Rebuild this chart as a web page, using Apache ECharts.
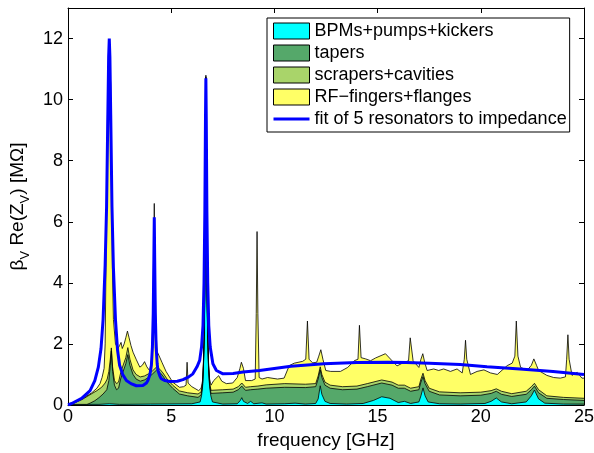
<!DOCTYPE html>
<html>
<head>
<meta charset="utf-8">
<script src="https://cdn.jsdelivr.net/npm/echarts@6/dist/echarts.min.js"></script>
<style>
  html, body { margin: 0; padding: 0; background: #fff; }
  #main { width: 594px; height: 453px; }
</style>
</head>
<body>
<div id="main"></div>
<script>
// frequency [GHz], value [MΩ] -- top edge of each stacked layer
const bpmTop = [
  [0,0.02],[1.5,0.02],[2.0,0.04],[2.5,0.02],[4.0,0.03],[6.0,0.04],[6.4,0.1],[6.47,0.3],[6.52,0.6],[6.56,1.2],
  [6.6,2.2],[6.63,3.8],[6.66,7.5],[6.68,10.7],[6.7,7.5],[6.73,3.8],[6.77,2.2],[6.81,1.2],[6.86,0.6],[6.92,0.3],
  [7.0,0.1],[7.5,0.03],[8.2,0.04],[8.35,0.15],[8.42,0.24],[8.5,0.12],[8.7,0.05],[8.85,0.12],[9.0,0.04],[9.4,0.07],
  [9.6,0.03],[10.5,0.04],[11.0,0.06],[11.5,0.03],[12.0,0.05],[12.12,0.2],[12.22,0.63],[12.3,0.35],[12.45,0.12],[12.7,0.05],
  [13.5,0.03],[14.3,0.05],[14.8,0.15],[15.2,0.27],[15.6,0.22],[16.0,0.08],[16.3,0.12],[16.6,0.05],[17.0,0.1],[17.1,0.3],
  [17.2,0.56],[17.3,0.3],[17.45,0.1],[18.0,0.04],[19.0,0.03],[20.2,0.05],[20.5,0.12],[20.75,0.23],[21.0,0.1],[21.5,0.04],
  [22.2,0.1],[22.45,0.3],[22.6,0.49],[22.8,0.2],[23.1,0.06],[24.0,0.03],[25,0.03]
];
const taperTop = [
  [0,0],[0.9,0.01],[1.1,0.07],[1.3,0.14],[1.5,0.24],[1.7,0.36],[1.88,0.5],[1.98,0.8],[2.05,1.3],[2.1,1.77],
  [2.16,1.1],[2.25,0.65],[2.35,0.5],[2.45,0.55],[2.55,0.85],[2.62,1.0],[2.7,1.05],[2.8,1.35],[2.9,1.65],[3.0,1.3],
  [3.15,1.0],[3.3,0.85],[3.5,0.78],[3.7,0.82],[3.9,0.9],[4.1,1.02],[4.3,1.15],[4.45,1.07],[4.6,0.95],[4.8,0.75],
  [5.07,0.55],[5.4,0.36],[5.8,0.3],[6.3,0.25],[6.45,0.33],[6.52,0.65],[6.56,1.25],[6.6,2.25],[6.63,3.85],[6.66,7.55],
  [6.68,10.72],[6.7,7.55],[6.73,3.85],[6.77,2.25],[6.81,1.25],[6.86,0.65],[6.93,0.38],[7.0,0.33],[7.5,0.4],[8.0,0.42],
  [8.25,0.5],[8.42,0.62],[8.6,0.48],[8.85,0.5],[9.2,0.52],[9.6,0.55],[10.5,0.58],[11.5,0.57],[12.0,0.6],[12.12,0.85],
  [12.22,1.15],[12.3,0.9],[12.45,0.65],[12.7,0.55],[13.3,0.5],[14.0,0.52],[14.5,0.6],[15.2,0.72],[15.7,0.65],[16.0,0.55],
  [16.3,0.55],[16.6,0.45],[17.0,0.5],[17.1,0.75],[17.2,0.93],[17.3,0.7],[17.5,0.45],[18.0,0.33],[19.0,0.3],[20.0,0.32],
  [20.5,0.38],[20.75,0.45],[21.0,0.35],[21.5,0.28],[22.2,0.35],[22.45,0.5],[22.6,0.62],[22.8,0.4],[23.2,0.22],[24.0,0.18],
  [25,0.15]
];
const scraperTop = [
  [0,0],[0.2,0.04],[0.66,0.17],[1.15,0.37],[1.4,0.47],[1.63,0.58],[1.8,0.72],[1.9,0.85],[1.98,1.1],[2.05,1.5],
  [2.1,1.87],[2.16,1.25],[2.25,0.8],[2.35,0.7],[2.45,0.75],[2.55,1.05],[2.62,1.2],[2.7,1.25],[2.8,1.55],[2.9,1.88],
  [3.0,1.5],[3.15,1.15],[3.3,1.0],[3.5,0.92],[3.7,0.95],[3.9,1.02],[4.1,1.12],[4.3,1.25],[4.45,1.17],[4.6,1.05],
  [4.8,0.85],[5.07,0.65],[5.4,0.46],[5.8,0.4],[6.3,0.36],[6.45,0.43],[6.52,0.72],[6.56,1.3],[6.6,2.3],[6.63,3.9],
  [6.66,7.6],[6.68,10.75],[6.7,7.6],[6.73,3.9],[6.77,2.3],[6.81,1.3],[6.86,0.72],[6.93,0.48],[7.0,0.45],[7.5,0.5],
  [8.0,0.52],[8.25,0.6],[8.42,0.72],[8.6,0.58],[8.85,0.6],[9.2,0.62],[9.6,0.66],[10.5,0.7],[11.5,0.68],[12.0,0.7],
  [12.12,0.95],[12.22,1.25],[12.3,1.0],[12.45,0.75],[12.7,0.65],[13.3,0.6],[14.0,0.62],[14.5,0.7],[15.2,0.82],[15.7,0.75],
  [16.0,0.65],[16.3,0.65],[16.6,0.55],[17.0,0.6],[17.1,0.85],[17.2,1.04],[17.3,0.8],[17.5,0.55],[18.0,0.43],[19.0,0.4],
  [20.0,0.42],[20.5,0.47],[20.75,0.53],[21.0,0.45],[21.5,0.37],[22.2,0.45],[22.45,0.6],[22.6,0.71],[22.8,0.5],[23.2,0.3],
  [24.0,0.25],[25,0.22]
];
const rfTop = [
  [0,0],[0.3,0.07],[0.66,0.19],[1.15,0.4],[1.4,0.55],[1.55,0.7],[1.65,0.9],[1.75,1.2],[1.8,2.0],[1.84,4.5],
  [1.88,7.5],[1.93,10.5],[1.97,11.8],[2.03,11.85],[2.07,10.5],[2.11,7.5],[2.15,4.5],[2.2,2.8],[2.3,2.0],[2.42,1.85],
  [2.5,1.95],[2.57,2.05],[2.63,1.85],[2.72,2.0],[2.8,2.2],[2.88,2.42],[2.96,2.2],[3.05,1.95],[3.15,1.73],[3.3,1.5],
  [3.48,1.24],[3.6,1.3],[3.71,1.42],[3.82,1.25],[3.96,1.12],[4.05,1.5],[4.1,2.5],[4.14,4.5],[4.18,6.6],[4.22,4.5],
  [4.26,2.5],[4.32,1.75],[4.44,1.57],[4.55,1.4],[4.75,1.1],[5.07,0.75],[5.4,0.58],[5.6,0.6],[5.72,0.65],[5.77,1.4],
  [5.82,0.72],[6.0,0.6],[6.33,0.47],[6.45,0.55],[6.52,0.8],[6.56,1.4],[6.6,2.4],[6.63,4.0],[6.66,7.7],[6.68,10.8],
  [6.7,7.7],[6.73,4.0],[6.77,2.4],[6.81,1.4],[6.86,0.85],[6.93,0.65],[7.06,0.8],[7.3,0.96],[7.45,0.78],[7.67,0.7],
  [7.98,0.72],[8.2,0.9],[8.33,1.2],[8.4,1.4],[8.5,1.2],[8.6,0.8],[8.9,0.8],[9.07,0.85],[9.12,3.0],[9.16,5.68],
  [9.2,3.0],[9.26,0.9],[9.4,0.85],[9.67,0.9],[10.15,0.85],[10.47,0.88],[10.72,1.29],[10.96,1.37],[11.37,1.43],[11.52,1.5],
  [11.6,2.75],[11.68,1.5],[11.85,1.38],[12.05,1.4],[12.15,1.6],[12.25,1.81],[12.35,1.5],[12.49,1.13],[12.73,1.1],[13.2,1.1],
  [13.55,1.23],[13.87,1.45],[14.05,1.5],[14.12,2.61],[14.2,1.55],[14.42,1.51],[14.66,1.45],[14.9,1.54],[15.38,1.68],[15.7,1.45],
  [15.94,1.28],[16.26,1.39],[16.5,1.45],[16.58,2.2],[16.66,2.2],[16.72,1.45],[17.0,1.23],[17.1,1.5],[17.19,1.68],[17.28,1.4],
  [17.4,1.13],[17.72,1.18],[17.96,1.13],[18.2,1.18],[18.53,1.1],[18.85,1.18],[19.1,1.05],[19.2,1.5],[19.26,2.12],[19.32,1.5],
  [19.5,1.0],[19.82,1.1],[20.15,1.15],[20.47,1.05],[20.8,1.0],[21.28,1.29],[21.52,1.37],[21.65,1.6],[21.72,2.75],[21.8,1.6],
  [21.93,1.23],[22.25,1.14],[22.45,1.3],[22.57,1.51],[22.7,1.3],[22.8,1.13],[23.2,0.97],[23.53,0.9],[23.85,0.88],[24.1,0.92],
  [24.16,1.5],[24.22,2.3],[24.28,1.5],[24.42,0.97],[24.67,1.07],[24.9,0.88],[25,0.88]
];
const fitLine = [
  [0,0],[0.18,0.05],[0.66,0.22],[1.07,0.47],[1.3,0.8],[1.47,1.24],[1.6,1.85],[1.7,2.8],[1.8,4.6],[1.87,6.5],
  [1.93,9.5],[1.97,11.4],[2.0,12.0],[2.03,11.4],[2.07,9.5],[2.13,6.5],[2.2,4.5],[2.3,2.8],[2.4,1.8],[2.5,1.3],
  [2.65,1.0],[2.83,0.8],[3.05,0.7],[3.31,0.63],[3.63,0.64],[3.8,0.72],[3.87,0.8],[3.97,1.0],[4.04,1.3],[4.09,1.9],
  [4.13,3.0],[4.16,4.8],[4.18,6.15],[4.2,4.8],[4.23,3.0],[4.27,1.9],[4.32,1.35],[4.36,1.13],[4.45,0.95],[4.52,0.86],
  [4.7,0.8],[4.93,0.77],[5.3,0.78],[5.57,0.83],[5.85,0.92],[6.05,1.02],[6.25,1.25],[6.38,1.46],[6.47,1.9],[6.54,2.6],
  [6.59,4.0],[6.63,6.3],[6.66,9.3],[6.68,10.7],[6.7,9.3],[6.73,6.3],[6.77,4.0],[6.82,2.6],[6.89,1.9],[7.02,1.35],
  [7.19,1.13],[7.51,1.02],[8.0,1.03],[8.48,1.08],[9.28,1.13],[10.8,1.27],[12.4,1.35],[14.0,1.39],[15.5,1.4],[16.4,1.39],
  [17.5,1.37],[19.0,1.33],[20.3,1.25],[21.9,1.18],[23.5,1.1],[25,1.0]
];
const names = ['BPMs+pumps+kickers', 'tapers', 'scrapers+cavities', 'RF\u2212fingers+flanges', 'fit of 5 resonators to impedance'];
const fills = ['#00ffff', '#55a86a', '#a9d46a', '#ffff66'];
const fitColor = '#0000ff';
const xTicks = [0, 25, 5];
const yTicks = [0, 13, 2];

const chart = echarts.init(document.getElementById('main'));
const font = 'Liberation Sans, Arial, Helvetica, sans-serif';

function layer(i, data) {
  return {
    name: names[i], type: 'line', data: data,
    color: fills[i], symbol: 'none', smooth: false,
    lineStyle: { color: '#000', width: 0.8 },
    areaStyle: { color: fills[i], opacity: 1 }
  };
}

function frame() {
  return {
    axisLine: { show: true, onZero: false, lineStyle: { color: '#000', width: 1 } },
    axisTick: { show: true, inside: true, length: 5, lineStyle: { color: '#000' } },
    splitLine: { show: false }
  };
}

chart.setOption({
  animation: false,
  grid: { left: 68, right: 10, top: 8, bottom: 48, outerBoundsMode: 'none', containLabel: false },
  legend: {
    orient: 'vertical', left: 267, top: 18,
    backgroundColor: '#fff', borderColor: '#000', borderWidth: 1,
    padding: [4, 3, 4, 6], itemGap: 4, itemWidth: 36, itemHeight: 16,
    symbolKeepAspect: true,
    textStyle: { fontFamily: font, fontSize: 18, color: '#000' },
    data: names.map((n, i) => i < 4
      ? { name: n, icon: 'rect', itemStyle: { color: fills[i], borderColor: '#000', borderWidth: 1 } }
      : { name: n, icon: 'path://M0,0L36,0L36,3L0,3Z', itemStyle: { color: fitColor, borderWidth: 0 } })
  },
  xAxis: [
    Object.assign(frame(), {
      type: 'value', min: xTicks[0], max: xTicks[1], interval: xTicks[2], position: 'bottom',
      name: 'frequency [GHz]', nameLocation: 'middle', nameGap: 25,
      nameTextStyle: { fontFamily: font, fontSize: 19, color: '#000' },
      axisLabel: { fontFamily: font, fontSize: 18, color: '#000', margin: 3 }
    }),
    Object.assign(frame(), {
      type: 'value', min: xTicks[0], max: xTicks[1], interval: xTicks[2], position: 'top',
      axisLabel: { show: false }
    })
  ],
  yAxis: [
    Object.assign(frame(), {
      type: 'value', min: yTicks[0], max: yTicks[1], interval: yTicks[2], position: 'left',
      name: '{b|\u03b2}{s|V}{b| Re(Z}{s|V}{b|) [M\u03a9]}', nameLocation: 'middle', nameGap: 28, nameRotate: 90,
      nameTextStyle: {
        fontFamily: font, fontSize: 19, color: '#000',
        rich: {
          b: { fontFamily: font, fontSize: 19, color: '#000', lineHeight: 20 },
          s: { fontFamily: font, fontSize: 13, color: '#000', lineHeight: 14, padding: [16, 0, 0, 0] }
        }
      },
      axisLabel: { fontFamily: font, fontSize: 18, color: '#000', margin: 5, showMaxLabel: false }
    }),
    Object.assign(frame(), {
      type: 'value', min: yTicks[0], max: yTicks[1], interval: yTicks[2], position: 'right',
      axisLabel: { show: false }
    })
  ],
  series: [
    layer(3, rfTop),
    layer(2, scraperTop),
    layer(1, taperTop),
    layer(0, bpmTop),
    {
      name: names[4], type: 'line', data: fitLine, color: fitColor,
      symbol: 'none', smooth: false, z: 5,
      lineStyle: { color: fitColor, width: 3 }
    }
  ]
});
</script>
</body>
</html>
